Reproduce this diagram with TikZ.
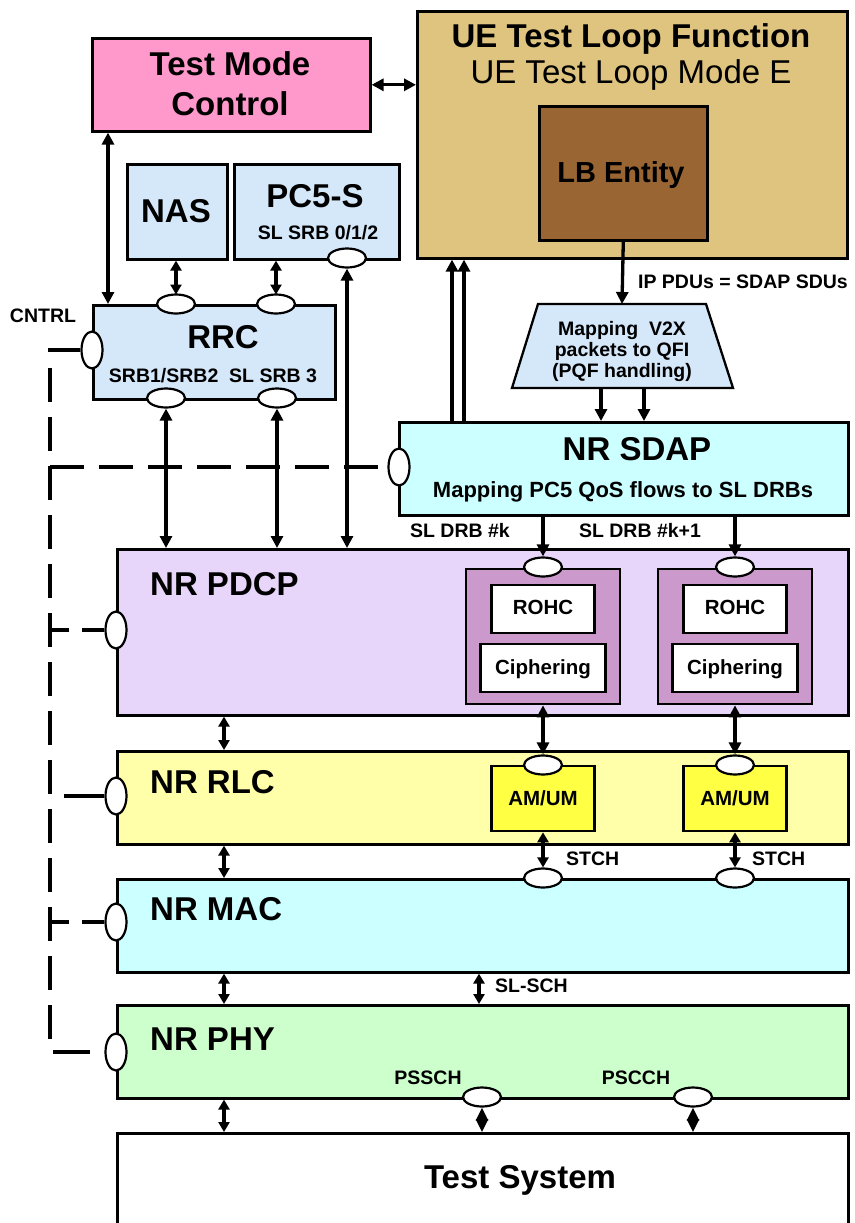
\documentclass[tikz,border=0pt]{standalone}
\usepackage{fontspec}
\setmainfont{Liberation Sans}
\usetikzlibrary{arrows.meta,shapes.geometric}
\definecolor{pinkc}{HTML}{FF99CC}
\definecolor{tanc}{HTML}{DEC47F}
\definecolor{brownc}{HTML}{996633}
\definecolor{lbluec}{HTML}{D5E8FA}
\definecolor{cyanc}{HTML}{CCFFFF}
\definecolor{lavc}{HTML}{E8D5FA}
\definecolor{mauvec}{HTML}{CC99CC}
\definecolor{lyelc}{HTML}{FFFFAA}
\definecolor{yelc}{HTML}{FFFF44}
\definecolor{lgreenc}{HTML}{CCFFCC}
\tikzset{
  box/.style={draw, line width=2.6pt, inner sep=0pt, anchor=north west},
  cbox/.style={draw, line width=2.3pt, inner sep=0pt, anchor=north},
  port/.style={ellipse, draw, fill=white, line width=2.2pt, minimum width=38pt, minimum height=19pt, inner sep=0pt},
  vport/.style={port, minimum width=21pt, minimum height=37pt},
  arr/.style={line width=3.3pt, -{Triangle[length=12pt,width=12pt]}},
  darr/.style={line width=3.3pt, {Triangle[length=12pt,width=12pt]}-{Triangle[length=12pt,width=12pt]}},
  sdarr/.style={line width=3.3pt, {Triangle[length=10pt,width=11pt]}-{Triangle[length=10pt,width=11pt]}},
  diarr/.style={line width=2.5pt, {Triangle[length=13pt,width=12pt]}-{Triangle[length=13pt,width=12pt]}},
  ctl/.style={line width=3.5pt, dash pattern=on 34pt off 15pt},
  ctlb/.style={line width=3.5pt, dash pattern=on 22pt off 13pt},
  ctls/.style={line width=3.5pt},
  big/.style={font=\fontsize{33}{36}\selectfont\bfseries, inner sep=0pt, anchor=base},
  bigl/.style={big, anchor=base west},
  mid/.style={font=\fontsize{20.5}{23}\selectfont\bfseries, inner sep=0pt, anchor=base},
  small/.style={font=\fontsize{19.5}{22}\selectfont\bfseries, inner sep=0pt, anchor=base},
  smalll/.style={small, anchor=base west}
}
\begin{document}
\begin{tikzpicture}[x=1pt,y=-1pt]
\useasboundingbox[fill=white] (0,0) rectangle (854,1223);
% boxes
\node[box, fill=pinkc, minimum width=278pt, minimum height=93pt] (tmc) at (91,37) {};
\node[box, fill=tanc, minimum width=430pt, minimum height=247pt] (tlf) at (416,10) {};
\node[box, fill=brownc, minimum width=168pt, minimum height=134pt] (lb) at (538,105) {};
\node[box, fill=lbluec, minimum width=100pt, minimum height=95pt] (nas) at (126,163) {};
\node[box, fill=lbluec, minimum width=165pt, minimum height=95pt] (pc5) at (233,163) {};
\node[box, fill=lbluec, minimum width=242pt, minimum height=94pt] (rrc) at (92,304) {};
\coordinate (mapnw) at (538,304);
\coordinate (mapne) at (706,304);
\coordinate (mapse) at (733,388);
\coordinate (mapsw) at (512,388);
\coordinate (mapn) at (622,304);
\coordinate (maps) at (622,388);
\draw[fill=lbluec, line width=2.3pt, line join=miter] (mapnw) -- (mapne) -- (mapse) -- (mapsw) -- cycle;
\node[box, fill=cyanc, minimum width=449pt, minimum height=93pt] (sdap) at (398,421) {};
\node[box, fill=lavc, minimum width=731pt, minimum height=166pt] (pdcp) at (116,548) {};
\node[cbox, fill=mauvec, minimum width=154pt, minimum height=135pt] (m1) at (543,568) {};
\node[cbox, fill=mauvec, minimum width=154pt, minimum height=135pt] (m2) at (735,568) {};
\node[cbox, fill=white, minimum width=103pt, minimum height=48pt] (rohc1) at (543,584) {};
\node[cbox, fill=white, minimum width=103pt, minimum height=48pt] (rohc2) at (735,584) {};
\node[cbox, fill=white, minimum width=125pt, minimum height=48pt] (ciph1) at (543,643) {};
\node[cbox, fill=white, minimum width=125pt, minimum height=48pt] (ciph2) at (735,643) {};
\node[box, fill=lyelc, minimum width=731pt, minimum height=93pt] (rlc) at (116,750) {};
\node[cbox, fill=yelc, minimum width=103pt, minimum height=65pt] (am1) at (543,765) {};
\node[cbox, fill=yelc, minimum width=103pt, minimum height=65pt] (am2) at (735,765) {};
\node[box, fill=cyanc, minimum width=731pt, minimum height=93pt] (mac) at (116,878) {};
\node[box, fill=lgreenc, minimum width=731pt, minimum height=93pt] (phy) at (116,1004) {};
\node[box, fill=white, minimum width=731pt, minimum height=130pt] (test) at (116,1132) {};
% texts
\node[big] (t1) at (230,75) {Test Mode};
\node[big] (t2) at (230,115) {Control};
\node[big] (t3) at (631,48) {UE Test Loop Function};
\node[big, font=\fontsize{33}{36}\selectfont] (t4) at (631,83) {UE Test Loop Mode E};
\node[big, font=\fontsize{29}{32}\selectfont\bfseries] (t5) at (621,182) {LB Entity};
\node[big] (t6) at (176,222) {NAS};
\node[big] (t7) at (315,207) {PC5-S};
\node[small] (t8) at (318,239) {SL SRB 0/1/2};
\node[big] (t9) at (223,348) {RRC};
\node[small] (t10) at (213,382) {SRB1/SRB2~~SL SRB 3};
\node[small] (t11) at (43,322) {CNTRL};
\node[small] (t12) at (743,288) {IP PDUs = SDAP SDUs};
\node[small] (t13) at (622,335) {Mapping~~V2X};
\node[small] (t14) at (622,356) {packets to QFI};
\node[small] (t15) at (622,377) {(PQF handling)};
\node[big] (t16) at (637,460) {NR SDAP};
\node[mid, font=\fontsize{22}{24}\selectfont\bfseries] (t17) at (623,497) {Mapping PC5 QoS flows to SL DRBs};
\node[small] (t18) at (460,537) {SL DRB \#k};
\node[small] (t19) at (640,537) {SL DRB \#k+1};
\node[bigl] (t20) at (150,595) {NR PDCP};
\node[mid] (t21) at (543,614) {ROHC};
\node[mid] (t22) at (735,614) {ROHC};
\node[mid] (t23) at (543,674) {Ciphering};
\node[mid] (t24) at (735,674) {Ciphering};
\node[bigl] (t25) at (150,793) {NR RLC};
\node[mid] (t26) at (543,805) {AM/UM};
\node[mid] (t27) at (735,805) {AM/UM};
\node[smalll] (t28) at (566,865) {STCH};
\node[smalll] (t29) at (752,865) {STCH};
\node[bigl] (t30) at (150,920) {NR MAC};
\node[smalll] (t31) at (495,992) {SL-SCH};
\node[bigl] (t32) at (150,1050) {NR PHY};
\node[small] (t33) at (428,1084) {PSSCH};
\node[small] (t34) at (636,1084) {PSCCH};
\node[big] (t35) at (520,1188) {Test System};
% control lines
\coordinate (vx) at (50,0);
\coordinate (vtop) at (50,368);
\coordinate (vbot) at (50,1043);
\node[vport] (rl) at (92,350) {};
\node[vport] (sl) at (399,467) {};
\node[vport] (pl) at (116,630) {};
\node[vport] (rlcl) at (116,796) {};
\node[vport] (ml) at (116,922) {};
\node[vport] (hl) at (116,1052) {};
\draw[ctls] (rl.west) -- (rl.west -| 48,0);
\draw[ctl] (vtop) -- (vbot);
\draw[ctl] (sl.west -| vx) -- (sl.west);
\draw[ctlb] (pl.west) -- (pl.west -| 48,0);
\draw[ctls] (rlcl.west) -- ([xshift=-40pt]rlcl.west);
\draw[ctlb] (ml.west) -- (ml.west -| 48,0);
\draw[ctls] ([xshift=-14pt]hl.west) -- ([xshift=-51pt]hl.west);
% arrows
\draw[darr] (tmc.east) -- (tmc.east -| tlf.west);
\draw[darr] ([xshift=17pt]tmc.south west) -- ([xshift=16pt]rrc.north west);
\coordinate (rt1c) at (176,304);
\coordinate (rt2c) at (276,304);
\draw[sdarr] (rt1c |- nas.south) -- ([yshift=9.5pt]rt1c);
\draw[sdarr] (rt2c |- pc5.south) -- ([yshift=9.5pt]rt2c);
\node[port] (rt1) at (rt1c) {};
\node[port] (rt2) at (rt2c) {};
\node[port] (rb1) at (166,398) {};
\node[port] (rb2) at (277,398) {};
\node[port] (pc5p) at (347,258) {};
\draw[darr] (pc5p.south) -- (pc5p.south |- pdcp.north);
\draw[darr] (rb1.south) -- (rb1.south |- pdcp.north);
\draw[darr] (rb2.south) -- (rb2.south |- pdcp.north);
\draw[arr] ([xshift=54pt]sdap.north west) -- ([xshift=54pt]sdap.north west |- tlf.south);
\draw[arr] ([xshift=66pt]sdap.north west) -- ([xshift=66pt]sdap.north west |- tlf.south);
\draw[arr] (lb.south) -- (mapn);
\draw[arr] ([xshift=-21pt]maps) -- ([xshift=-21pt]maps |- sdap.north);
\draw[arr] ([xshift=22pt]maps) -- ([xshift=22pt]maps |- sdap.north);
\node[port] (pp1) at (543,567) {};
\node[port] (pp2) at (735,567) {};
\draw[arr] (pp1.north |- sdap.south) -- (pp1.north);
\draw[arr] (pp2.north |- sdap.south) -- (pp2.north);
\node[port] (ap1) at (543,765) {};
\node[port] (ap2) at (735,765) {};
\draw[darr] (m1.south) -- (ap1.north);
\draw[darr] (m2.south) -- (ap2.north);
\node[port] (mp1) at (543,878) {};
\node[port] (mp2) at (735,878) {};
\draw[sdarr] (am1.south) -- (mp1.north);
\draw[sdarr] (am2.south) -- (mp2.north);
\draw[sdarr] ([xshift=108pt]pdcp.south west) -- ([xshift=108pt]rlc.north west);
\draw[sdarr] ([xshift=108pt]rlc.south west) -- ([xshift=108pt]mac.north west);
\draw[sdarr] ([xshift=108pt]mac.south west) -- ([xshift=108pt]phy.north west);
\draw[sdarr] ([xshift=108pt]phy.south west) -- ([xshift=108pt]test.north west);
\draw[sdarr] ([xshift=363pt]mac.south west) -- ([xshift=363pt]phy.north west);
\node[port] (hb1) at (482,1097) {};
\node[port] (hb2) at (693,1097) {};
\draw[diarr] (hb1.south) -- (hb1.south |- test.north);
\draw[diarr] (hb2.south) -- (hb2.south |- test.north);
\end{tikzpicture}
\end{document}
